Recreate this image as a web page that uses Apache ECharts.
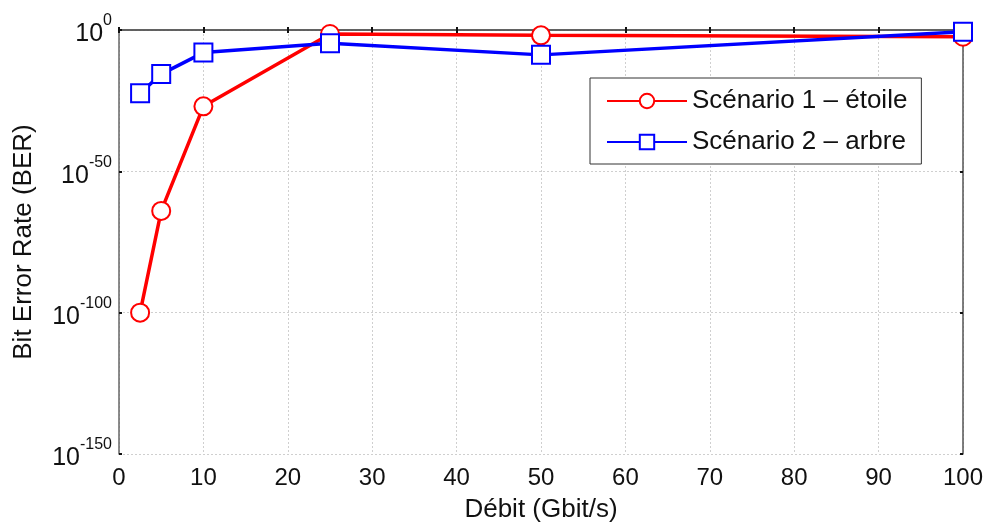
<!DOCTYPE html>
<html>
<head>
<meta charset="utf-8">
<script src="https://cdn.jsdelivr.net/npm/echarts@6/dist/echarts.min.js"></script>
<style>
html,body{margin:0;padding:0;background:#fff;}
#chart{width:987px;height:524px;}
</style>
</head>
<body>
<div id="chart"></div>
<script>
// Débit (Gbit/s)
const debit = [2.5, 5, 10, 25, 50, 100];
// BER expressed as log10 exponent (10^exp)
const berExpEtoile = [-100, -64, -27, -1.4, -1.9, -2.4];
const berExpArbre = [-22.4, -15.6, -8, -4.7, -8.8, -0.6];
const seriesNames = ['Scénario 1 – étoile', 'Scénario 2 – arbre'];
const yTickExps = [0, -50, -100, -150];
const xTicks = [0, 10, 20, 30, 40, 50, 60, 70, 80, 90, 100];

const font = 'Liberation Sans, Arial, sans-serif';
const pairs = (xs, ys) => xs.map((x, i) => [x, ys[i]]);

const chart = echarts.init(document.getElementById('chart'), null, {renderer: 'canvas'});
const tickStyle = {show: true, inside: true, length: 3, lineStyle: {color: '#111', width: 2}};
chart.setOption({
  animation: false,
  backgroundColor: '#fff',
  textStyle: {fontFamily: font},
  grid: {left: 119, right: 24, top: 30, bottom: 70, containLabel: false, outerBoundsMode: 'none'},
  legend: {
    orient: 'vertical',
    left: 590, top: 78,
    padding: [10, 14, 9, 16],
    itemGap: 15,
    itemWidth: 80, itemHeight: 18,
    backgroundColor: '#fff',
    borderColor: '#333', borderWidth: 1,
    textStyle: {fontSize: 26, color: '#111', fontFamily: font},
    data: seriesNames
  },
  xAxis: [{
    type: 'value', min: 0, max: 100, interval: 10,
    name: 'Débit (Gbit/s)', nameLocation: 'middle', nameGap: 43,
    nameTextStyle: {fontSize: 26, color: '#111', fontFamily: font},
    axisLine: {show: true, lineStyle: {color: '#666', width: 1.5}},
    axisTick: tickStyle,
    axisLabel: {fontSize: 24, color: '#111', margin: 12, fontFamily: font,
      formatter: v => xTicks.indexOf(v) >= 0 ? String(v) : ''},
    splitLine: {show: true, lineStyle: {color: '#cfcfcf', type: [2, 2], width: 1}}
  }, {
    type: 'value', min: 0, max: 100, interval: 10, position: 'top',
    axisLine: {show: true, onZero: false, lineStyle: {color: '#555', width: 1.5}},
    axisTick: tickStyle, axisLabel: {show: false}, splitLine: {show: false}
  }],
  yAxis: [{
    type: 'value', min: -150, max: 0, interval: 50,
    name: 'Bit Error Rate (BER)', nameLocation: 'middle', nameGap: 82,
    nameTextStyle: {fontSize: 26, color: '#111', fontFamily: font},
    axisLine: {show: true, lineStyle: {color: '#666', width: 1.5}},
    axisTick: tickStyle,
    axisLabel: {
      margin: 7, color: '#111', fontFamily: font,
      formatter: v => yTickExps.indexOf(v) >= 0 ? '{b|10}{s|' + v + '}' : '',
      rich: {
        b: {fontSize: 25, color: '#111', fontFamily: font, verticalAlign: 'bottom', lineHeight: 34},
        s: {fontSize: 16, color: '#111', fontFamily: font, verticalAlign: 'top', lineHeight: 34}
      }
    },
    splitLine: {show: true, lineStyle: {color: '#cfcfcf', type: [2, 2], width: 1}}
  }, {
    type: 'value', min: -150, max: 0, interval: 50, position: 'right',
    axisLine: {show: true, onZero: false, lineStyle: {color: '#555', width: 1.5}},
    axisTick: tickStyle, axisLabel: {show: false}, splitLine: {show: false}
  }],
  series: [{
    name: seriesNames[0], type: 'line',
    data: pairs(debit, berExpEtoile),
    symbol: 'emptyCircle', symbolSize: 18,
    lineStyle: {color: '#ff0000', width: 3.5},
    itemStyle: {color: '#ff0000', borderColor: '#ff0000', borderWidth: 3.5},
    emphasis: {disabled: true}
  }, {
    name: seriesNames[1], type: 'line',
    data: pairs(debit, berExpArbre),
    symbol: 'emptyRect', symbolSize: 18,
    lineStyle: {color: '#0000ff', width: 3.5},
    itemStyle: {color: '#0000ff', borderColor: '#0000ff', borderWidth: 3.5},
    emphasis: {disabled: true}
  }]
});
</script>
</body>
</html>
